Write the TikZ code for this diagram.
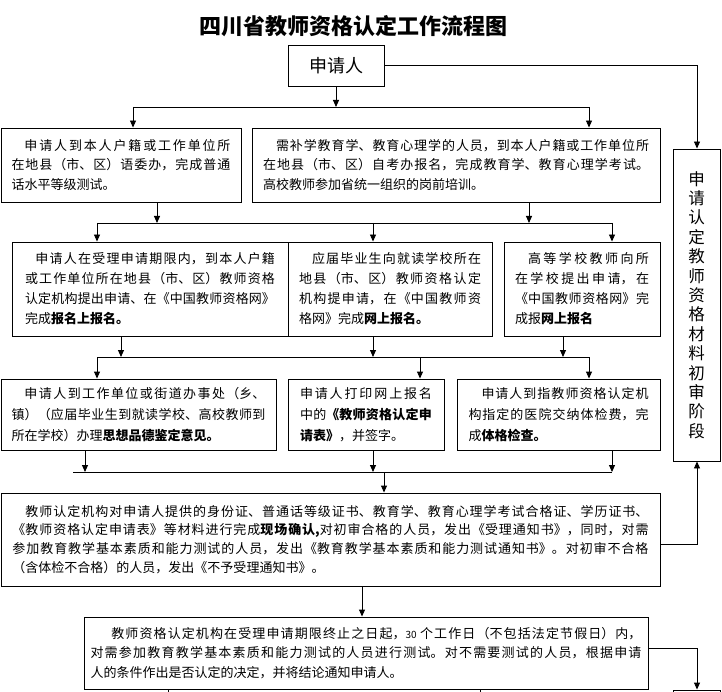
\documentclass[tikz,border=0pt]{standalone}
\usepackage{fontspec}
\setmainfont{Noto Sans CJK SC}
\usetikzlibrary{arrows.meta}
\XeTeXlinebreaklocale "zh"
\XeTeXlinebreakskip=0pt plus 3pt
\tikzset{
  box/.style={draw, line width=0.9pt, inner sep=0pt, align=justify},
  txt/.style={font=\fontsize{13pt}{#1pt}\selectfont},
  conn/.style={line width=0.9pt},
  arr/.style={line width=0.9pt, -{Triangle[width=6pt,length=7pt]}},
}
\begin{document}
\begin{tikzpicture}[x=1pt,y=-1pt]
\useasboundingbox[fill=white] (0,0) rectangle (722,692);
% title
\node[font=\bfseries\fontsize{22pt}{22pt}\selectfont, inner sep=0pt] (T) at (353,26) {四川省教师资格认定工作流程图};
% applicant
\node[draw, line width=0.9pt, inner sep=0pt, minimum width=96pt, minimum height=41pt, font=\fontsize{18pt}{18pt}\selectfont] (P) at (336,65.5) {申请人};
% side box
\node[draw, line width=0.9pt, inner sep=0pt, minimum width=47pt, minimum height=312pt, align=center, font=\fontsize{16.5pt}{19.4pt}\selectfont] (S) at (696.5,305) {申\\请\\认\\定\\教\\师\\资\\格\\材\\料\\初\\审\\阶\\段};
% row 1
\node[box, txt=19.3, minimum width=240pt, minimum height=74pt, text width=219pt] (A) at (121,165) {\hspace*{1em}申请人到本人户籍或工作单位所\linebreak 在地县（市、区）语委办，完成普通\linebreak 话水平等级测试。};
\node[box, txt=19.3, minimum width=408pt, minimum height=74pt, text width=386pt] (B) at (456,165) {\hspace*{1em}需补学教育学、教育心理学的人员，到本人户籍或工作单位所\linebreak 在地县（市、区）自考办报名，完成教育学、教育心理学考试。\linebreak 高校教师参加省统一组织的岗前培训。};
% row 2
\node[box, txt=20, minimum width=276pt, minimum height=94pt, text width=250pt] (C) at (150,289) {\hspace*{0.8em}申请人在受理申请期限内，到本人户籍\linebreak 或工作单位所在地县（市、区）教师资格\linebreak 认定机构提出申请、在《中国教师资格网》\linebreak 完成\textbf{报名上报名。}};
\node[box, txt=20, minimum width=204pt, minimum height=94pt, text width=182pt] (D) at (390,289) {\hspace*{1em}应届毕业生向就读学校所在\linebreak 地县（市、区）教师资格认定\linebreak 机构提申请，在《中国教师资\linebreak 格网》完成\textbf{网上报名。}};
\node[box, txt=20, minimum width=156pt, minimum height=94pt, text width=134pt] (E) at (582,289) {\hspace*{1em}高等学校教师向所\linebreak 在学校提出申请，在\linebreak 《中国教师资格网》完\linebreak 成报\textbf{网上报名}};
% row 3
\node[box, txt=21, minimum width=275pt, minimum height=71pt, text width=254pt] (F) at (138.5,414.5) {\hspace*{1em}申请人到工作单位或街道办事处（乡、\linebreak 镇）（应届毕业生到就读学校、高校教师到\linebreak 所在学校）办理\textbf{思想品德鉴定意见。}};
\node[box, txt=21, minimum width=156pt, minimum height=71pt, text width=132pt] (G) at (366,414.5) {申请人打印网上报名\linebreak 中的\textbf{《教师资格认定申}\linebreak \textbf{请表》}，并签字。};
\node[box, txt=21, minimum width=203pt, minimum height=71pt, text width=180pt] (H) at (558.5,414.5) {\hspace*{1em}申请人到指教师资格认定机\linebreak 构指定的医院交纳体检费，完\linebreak 成\textbf{体格检查。}};
% row 4
\node[box, txt=18.7, minimum width=659pt, minimum height=93pt, text width=636pt] (I) at (330.5,539.5) {\hspace*{1em}教师认定机构对申请人提供的身份证、普通话等级证书、教育学、教育心理学考试合格证、学历证书、\linebreak 《教师资格认定申请表》等材料进行完成\textbf{现场确认,}对初审合格的人员，发出《受理通知书》，同时，对需\linebreak 参加教育教学基本素质和能力测试的人员，发出《教育教学基本素质和能力测试通知书》。对初审不合格\linebreak （含体检不合格）的人员，发出《不予受理通知书》。};
% row 5
\node[box, txt=19.5, minimum width=564pt, minimum height=72pt, text width=551pt] (J) at (366,653) {\hspace*{1.6em}教师资格认定机构在受理申请期限终止之日起，{\fontsize{10pt}{10pt}\selectfont 30} 个工作日（不包括法定节假日）内，\linebreak 对需参加教育教学基本素质和能力测试的人员进行测试。对不需要测试的人员，根据申请\linebreak 人的条件作出是否认定的决定，并将结论通知申请人。};
% partial box at bottom right
\node[draw, line width=0.9pt, inner sep=0pt, minimum width=47pt, minimum height=30pt] (K) at (696.5,705) {};
% junction coordinates
\coordinate (j1) at (336,107);
\coordinate (j1a) at (133,107);
\coordinate (j1b) at (589,107);
\coordinate (j2a) at (157,223);
\coordinate (j2b) at (529,223);
\coordinate (j2l) at (97,223);
\coordinate (j2m) at (373,223);
\coordinate (j2r) at (612,223);
\coordinate (j3a) at (121,357);
\coordinate (j3b) at (373,357);
\coordinate (j3c) at (563,357);
\coordinate (j3l) at (97,357);
\coordinate (j3m) at (420,357);
\coordinate (j3r) at (589,357);
\coordinate (j4a) at (85,472);
\coordinate (j4b) at (373,472);
\coordinate (j4c) at (612,472);
\coordinate (j4l) at (73,472);
\coordinate (j4m) at (384,472);
\coordinate (j5) at (362,600);
\coordinate (ri) at (697,544);
\coordinate (rj) at (697,648);
\coordinate (rp) at (697,65.5);
% top connectors
\draw[arr] (P.east) -- (rp) -- (rp |- S.north);
\draw[arr] (P.south) -- (j1);
\draw[conn] (j1a) -- (j1b);
\draw[arr] (j1a) -- (j1a |- A.north);
\draw[arr] (j1b) -- (j1b |- B.north);
% row1 -> row2
\draw[arr] (j2a |- A.south) -- (j2a);
\draw[arr] (j2b |- B.south) -- (j2b);
\draw[conn] (j2l) -- (j2r);
\draw[arr] (j2l) -- (j2l |- C.north);
\draw[arr] (j2m) -- (j2m |- D.north);
\draw[arr] (j2r) -- (j2r |- E.north);
% row2 -> row3
\draw[arr] (j3a |- C.south) -- (j3a);
\draw[arr] (j3b |- D.south) -- (j3b);
\draw[arr] (j3c |- E.south) -- (j3c);
\draw[conn] (j3l) -- (j3r);
\draw[arr] (j3l) -- (j3l |- F.north);
\draw[arr] (j3m) -- (j3m |- G.north);
\draw[arr] (j3r) -- (j3r |- H.north);
% row3 -> row4
\draw[arr] (j4a |- F.south) -- (j4a);
\draw[arr] (j4b |- G.south) -- (j4b);
\draw[arr] (j4c |- H.south) -- (j4c);
\draw[conn] (j4l) -- (j4c);
\draw[arr] (j4m) -- (j4m |- I.north);
% row4 -> row5
\draw[arr] (j5 |- I.south) -- (j5 |- J.north);
\draw[arr] (I.east |- ri) -- (ri) -- (ri |- S.south);
\draw[arr] (J.east |- rj) -- (rj) -- (rj |- K.north);
% stubs below J
\coordinate (s1) at (168,700);
\coordinate (s2) at (480,700);
\draw[conn] (s1 |- J.south) -- (s1);
\draw[conn] (s2 |- J.south) -- (s2);
\end{tikzpicture}
\end{document}
